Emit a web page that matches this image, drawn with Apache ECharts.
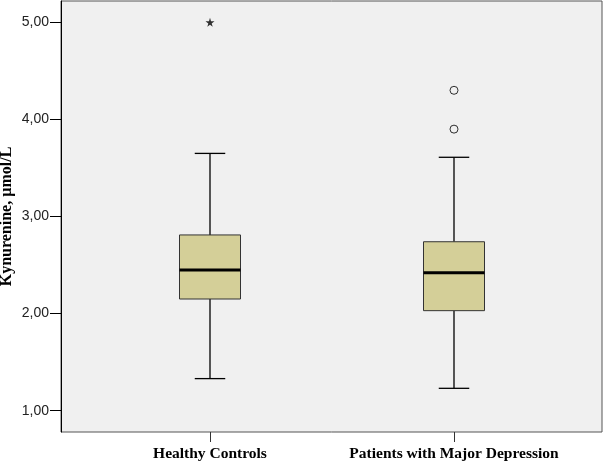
<!DOCTYPE html>
<html>
<head>
<meta charset="utf-8">
<script src="https://cdn.jsdelivr.net/npm/echarts@6/dist/echarts.min.js"></script>
<style>
  html, body { margin: 0; padding: 0; background: #fff; }
  #chart { width: 604px; height: 461px; }
</style>
</head>
<body>
<div id="chart"></div>
<script>
// groups
const categories = ['Healthy Controls', 'Patients with Major Depression']
// [lower whisker, Q1, median, Q3, upper whisker]
const boxStats = [
    [1.33, 2.15, 2.45, 2.81, 3.65],
    [1.23, 2.03, 2.42, 2.74, 3.61]
]
// outliers (circles) and extremes (stars): [group index, value]
const outliers = [[1, 3.90], [1, 4.30]]
const extremes = [[0, 5.00]]
const yTicks = [1, 2, 3, 4, 5]

const serif = '"Liberation Serif", "Times New Roman", serif'
const sans = '"Liberation Sans", Arial, sans-serif'
const boxFill = '#d4cf98'

const chart = echarts.init(document.getElementById('chart'))

// draws one SPSS-style box from the stats row
const renderBox = (params, api) => {
    const x = api.value(0)
    const lo = api.coord([x, api.value(1)])
    const q1 = api.coord([x, api.value(2)])
    const med = api.coord([x, api.value(3)])
    const q3 = api.coord([x, api.value(4)])
    const hi = api.coord([x, api.value(5)])
    const band = api.size([1, 0])[0]
    const half = band * 0.125
    const cap = half / 2
    const cx = lo[0]
    const line = { stroke: '#000', lineWidth: 1.3 }
    return {
        type: 'group',
        children: [
            { type: 'line', shape: { x1: cx, y1: hi[1], x2: cx, y2: q3[1] }, style: line },
            { type: 'line', shape: { x1: cx, y1: q1[1], x2: cx, y2: lo[1] }, style: line },
            { type: 'line', shape: { x1: cx - cap, y1: hi[1], x2: cx + cap, y2: hi[1] }, style: line },
            { type: 'line', shape: { x1: cx - cap, y1: lo[1], x2: cx + cap, y2: lo[1] }, style: line },
            {
                type: 'rect',
                shape: { x: cx - half, y: q3[1], width: half * 2, height: q1[1] - q3[1] },
                style: { fill: boxFill, stroke: '#333', lineWidth: 1 }
            },
            { type: 'line', shape: { x1: cx - half, y1: med[1], x2: cx + half, y2: med[1] }, style: { stroke: '#000', lineWidth: 3 } }
        ]
    }
}

const option = {
    backgroundColor: '#fff',
    animation: false,
    grid: [
        // plot frame and y scale
        { left: 61, right: 2, top: 1, bottom: 29, outerBoundsMode: 'none', containLabel: false, show: true, backgroundColor: '#f0f0f0', borderColor: '#555', borderWidth: 1 },
        // inner grid so the two groups sit where SPSS puts them
        { left: 88, width: 488, top: 1, bottom: 29, outerBoundsMode: 'none', containLabel: false }
    ],
    xAxis: [
        { gridIndex: 0, type: 'value', min: 0, max: 1, show: false },
        {
            gridIndex: 1,
            type: 'category',
            data: categories,
            axisLine: { show: false },
            axisTick: { show: true, alignWithLabel: true, interval: 0, length: 10, lineStyle: { color: '#333' } },
            axisLabel: { interval: 0, margin: 14, color: '#000', fontFamily: serif, fontWeight: 'bold', fontSize: 15.5 }
        }
    ],
    yAxis: [
        {
            gridIndex: 0,
            type: 'value',
            min: 0.78,
            max: 5.22,
            name: 'Kynurenine, µmol/L',
            nameLocation: 'middle',
            nameGap: 46,
            nameMoveOverlap: false,
            nameTextStyle: { color: '#000', fontFamily: serif, fontWeight: 'bold', fontSize: 16 },
            axisLine: { show: true, lineStyle: { color: '#000' } },
            axisTick: { show: true, length: 11, customValues: yTicks, lineStyle: { color: '#000' } },
            axisLabel: {
                margin: 12,
                color: '#222',
                fontFamily: sans,
                fontSize: 14,
                customValues: yTicks,
                formatter: v => v.toFixed(2).replace('.', ',')
            },
            splitLine: { show: false }
        },
        { gridIndex: 1, type: 'value', min: 0.78, max: 5.22, show: false }
    ],
    series: [
        {
            type: 'custom',
            xAxisIndex: 1,
            yAxisIndex: 1,
            renderItem: renderBox,
            encode: { x: 0, y: [1, 2, 3, 4, 5] },
            data: boxStats.map((s, i) => [i, ...s])
        },
        {
            type: 'scatter',
            xAxisIndex: 1,
            yAxisIndex: 1,
            symbol: 'circle',
            symbolSize: 8,
            itemStyle: { color: 'rgba(0,0,0,0)', borderColor: '#000', borderWidth: 1 },
            data: outliers
        },
        {
            type: 'scatter',
            xAxisIndex: 1,
            yAxisIndex: 1,
            symbol: 'path://M50,0 L61,35 L98,35 L68,57 L79,91 L50,70 L21,91 L32,57 L2,35 L39,35 Z',
            symbolSize: 9,
            itemStyle: { color: '#000' },
            data: extremes
        }
    ]
}

chart.setOption(option)
</script>
</body>
</html>
